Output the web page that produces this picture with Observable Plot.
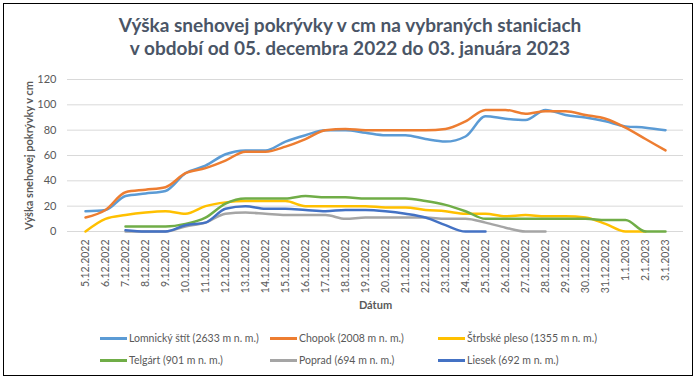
<!DOCTYPE html>
<html><head><meta charset="utf-8">
<script src="https://cdn.jsdelivr.net/npm/d3@7"></script>
<script src="https://cdn.jsdelivr.net/npm/@observablehq/plot@0.6"></script>
<style>
body{margin:0;background:#fff;font-family:Lato,"Open Sans",sans-serif;}
#wrap{position:relative;width:700px;height:382px;overflow:hidden;}
#frame{position:absolute;left:3px;top:3px;width:690px;height:373px;border:1px solid #000;box-sizing:border-box;}
#title{position:absolute;left:0;top:13px;width:700px;text-align:center;font-weight:bold;font-size:19px;line-height:23px;color:#4a5566;}
#chart{position:absolute;left:0;top:62px;}
.lg{position:absolute;font-size:10.5px;color:#595959;white-space:nowrap;display:flex;align-items:center;}
.lg span.sw{display:inline-block;width:27px;height:3px;margin-right:2px;}
</style></head><body>
<div id="wrap"><div id="frame"></div>
<div id="title">Výška snehovej pokrývky v cm na vybraných staniciach<br>v období od 05. decembra 2022 do 03. januára 2023</div>
<div id="chart"></div>
<div id="legend"></div>
</div>
<script>
const dates = ["5.12.2022","6.12.2022","7.12.2022","8.12.2022","9.12.2022","10.12.2022","11.12.2022","12.12.2022","13.12.2022","14.12.2022","15.12.2022","16.12.2022","17.12.2022","18.12.2022","19.12.2022","20.12.2022","21.12.2022","22.12.2022","23.12.2022","24.12.2022","25.12.2022","26.12.2022","27.12.2022","28.12.2022","29.12.2022","30.12.2022","31.12.2022","1.1.2023","2.1.2023","3.1.2023"];
const stations = ["Lomnický štít (2633 m n. m.)","Chopok (2008 m n. m.)","Štrbské pleso (1355 m n. m.)","Telgárt (901 m n. m.)","Poprad (694 m n. m.)","Liesek (692 m n. m.)"];
const colors = ["#5B9BD5","#ED7D31","#FFC000","#70AD47","#A5A5A5","#4472C4"];
const lomnicky = [16,17,28,30,32,46,52,61,64,64,71,76,80,80,78,76,76,73,71,75,91,89,88,96,92,90,87,83,82,80];
const chopok = [11,17,31,33,35,46,50,56,63,63,67,73,80,81,80,80,80,80,81,87,96,96,93,95,95,92,89,82,73,64];
const strbske = [0,10,13,15,16,14,20,23,24,24,24,20,20,20,20,19,19,17,16,14,14,12,13,12,12,11,6,0,0,null];
const telgart = [null,null,4,4,4,6,11,22,26,26,26,28,27,27,26,26,26,24,21,16,10,10,10,10,10,10,9,9,0,0];
const poprad = [null,null,0,0,0,4,7,14,15,14,13,13,13,10,11,11,11,11,10,10,7,3,0,0,null,null,null,null,null,null];
const liesek = [null,null,1,0,0,5,7,18,20,18,18,17,16,17,17,16,14,11,5,0,0,null,null,null,null,null,null,null,null,null];
const yTicks = [0,20,40,60,80,100,120];

const series = [lomnicky,chopok,strbske,telgart,poprad,liesek];
const rows = [];
series.forEach((vals,si)=>vals.forEach((v,i)=>rows.push({date:dates[i],value:v,station:stations[si]})));

const plot = Plot.plot({
  width:700, height:253,
  marginLeft:67, marginRight:17, marginTop:17, marginBottom:84,
  style:{fontFamily:"Lato, 'Open Sans', sans-serif", fontSize:"10.5px", color:"#595959", background:"transparent"},
  x:{type:"point", domain:dates, padding:0.5},
  y:{domain:[0,120]},
  color:{domain:stations, range:colors},
  marks:[
    Plot.gridY(yTicks,{stroke:"#d9d9d9", strokeOpacity:1, strokeWidth:1}),
    Plot.axisY(yTicks,{tickSize:0, tickPadding:11, fontSize:11, label:"Výška snehovej pokrývky v cm", labelAnchor:"center", labelArrow:"none", labelOffset:42}),
    Plot.axisX({tickSize:0, tickRotate:-90, tickPadding:8, label:"Dátum", labelAnchor:"center", labelArrow:"none", labelOffset:77}),
    Plot.lineY(rows.filter(d=>d.value!==null),{x:"date", y:"value", z:"station", stroke:"station", strokeWidth:2.5, curve:"monotone-x"})
  ]
});
plot.querySelectorAll('[aria-label="y-axis label"] text, [aria-label="x-axis label"] text').forEach(t=>{t.setAttribute("font-weight","bold");t.setAttribute("font-size","11");});
document.getElementById("chart").appendChild(plot);

const lgPos = [[100,339],[270,339],[438,339],[100,361],[270,361],[438,361]];
const lg = document.getElementById("legend");
stations.forEach((s,i)=>{
  const d=document.createElement("div");d.className="lg";
  d.style.left=lgPos[i][0]+"px";d.style.top=(lgPos[i][1]-7)+"px";
  d.innerHTML=`<span class="sw" style="background:${colors[i]}"></span>${s}`;
  lg.appendChild(d);
});
</script></body></html>
